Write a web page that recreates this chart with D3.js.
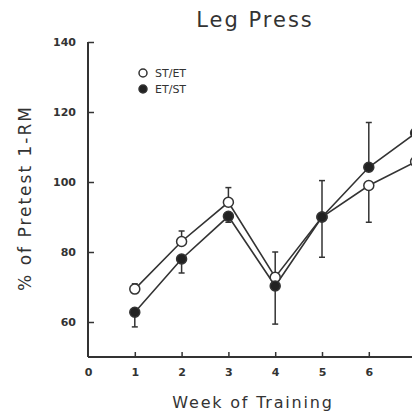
<!DOCTYPE html>
<html>
<head>
<meta charset="utf-8">
<script src="https://cdn.jsdelivr.net/npm/d3@7"></script>
<style>
  body { margin: 0; background: #fff; }
  text { font-family: "DejaVu Sans", sans-serif; fill: #333; }
</style>
</head>
<body>
<script>
// data
var weeks = [1, 2, 3, 4, 5, 6, 7];
var stEt = [69.4, 83, 94.2, 72.8, 90, 99, 105.8];
var stEtSd = [1.5, 3, 4.2, 7.2, 10.4, 10.5, 8.8];
var etSt = [62.8, 78, 90.2, 70.3, 90, 104.2, 114];
var etStSd = [4.2, 4, 1.7, 10.9, 11.5, 12.8, 14.3];
// +1 = bar drawn upward, -1 = downward (for the ST/ET series; ET/ST is opposite)
var stEtDir = [1, 1, 1, 1, 1, -1, -1];
var xTicks = [0, 1, 2, 3, 4, 5, 6];
var yTicks = [60, 80, 100, 120, 140];

var W = 412, H = 414;
var svg = d3.select("body").append("svg")
    .attr("width", W)
    .attr("height", H);

var x = d3.scaleLinear().domain([0, 7]).range([88, 415.6]);
var y = d3.scaleLinear().domain([50, 140]).range([357, 42]);

var ink = "#333";

// title
svg.append("text")
    .attr("x", 255).attr("y", 27)
    .attr("text-anchor", "middle")
    .style("font-size", "21px")
    .style("letter-spacing", "2px")
    .text("Leg Press");

// y axis
var yAxis = d3.axisRight(y).tickValues(yTicks).tickSize(6).tickFormat(d3.format("d"));
var gy = svg.append("g").attr("transform", "translate(88,0)").call(yAxis);
gy.select(".domain").attr("d", "M0," + y(140) + "V" + y(50)).attr("stroke", ink).attr("stroke-width", 2);
gy.selectAll(".tick line").attr("stroke", ink).attr("stroke-width", 1.5);
gy.selectAll(".tick text")
    .attr("x", -12).attr("text-anchor", "end")
    .style("font-size", "11px").style("font-weight", "bold")
    .attr("fill", ink);

// x axis
var xAxis = d3.axisTop(x).tickValues(xTicks).tickSize(5).tickFormat(d3.format("d"));
var gx = svg.append("g").attr("transform", "translate(0," + y(50) + ")").call(xAxis);
gx.select(".domain").attr("d", "M" + x(0) + ",0H" + W).attr("stroke", ink).attr("stroke-width", 2);
gx.selectAll(".tick line").attr("stroke", ink).attr("stroke-width", 1.5)
    .attr("display", function(d) { return d === 0 ? "none" : null; });
gx.selectAll(".tick text")
    .attr("y", 11).attr("dy", "0.71em")
    .style("font-size", "11px").style("font-weight", "bold")
    .attr("fill", ink);

// axis titles
svg.append("text")
    .attr("x", 253).attr("y", 408)
    .attr("text-anchor", "middle")
    .style("font-size", "16px")
    .style("letter-spacing", "1.8px")
    .text("Week of Training");

svg.append("text")
    .attr("transform", "translate(31,198) rotate(-90)")
    .attr("text-anchor", "middle")
    .style("font-size", "17px")
    .style("letter-spacing", "2px")
    .text("% of Pretest 1-RM");

// series
var series = [
    { name: "ST/ET", vals: stEt, sd: stEtSd, dir: stEtDir.map(function(d) { return d; }), fill: "#fff" },
    { name: "ET/ST", vals: etSt, sd: etStSd, dir: stEtDir.map(function(d) { return -d; }), fill: "#222" }
];

var line = d3.line()
    .x(function(d) { return x(d.w); })
    .y(function(d) { return y(d.v); });

series.forEach(function(s) {
    var pts = weeks.map(function(w, i) {
        return { w: w, v: s.vals[i], sd: s.sd[i], dir: s.dir[i] };
    });

    // error bars
    var eb = svg.append("g");
    eb.selectAll("line.bar")
        .data(pts).enter().append("line")
        .attr("class", "bar")
        .attr("x1", function(d) { return x(d.w); })
        .attr("x2", function(d) { return x(d.w); })
        .attr("y1", function(d) { return y(d.v); })
        .attr("y2", function(d) { return y(d.v + d.dir * d.sd); })
        .attr("stroke", ink).attr("stroke-width", 1.5);
    eb.selectAll("line.cap")
        .data(pts).enter().append("line")
        .attr("class", "cap")
        .attr("x1", function(d) { return x(d.w) - 3; })
        .attr("x2", function(d) { return x(d.w) + 3; })
        .attr("y1", function(d) { return y(d.v + d.dir * d.sd); })
        .attr("y2", function(d) { return y(d.v + d.dir * d.sd); })
        .attr("stroke", ink).attr("stroke-width", 1.5);

    s.pts = pts;
});

series.forEach(function(s) {
    svg.append("path")
        .datum(s.pts)
        .attr("d", line)
        .attr("fill", "none")
        .attr("stroke", ink)
        .attr("stroke-width", 1.6);
});

series.forEach(function(s) {
    svg.append("g").selectAll("circle")
        .data(s.pts).enter().append("circle")
        .attr("cx", function(d) { return x(d.w); })
        .attr("cy", function(d) { return y(d.v); })
        .attr("r", 5)
        .attr("fill", s.fill)
        .attr("stroke", ink)
        .attr("stroke-width", 1.5);
});

// legend
var legend = svg.append("g").attr("transform", "translate(143,73)");
series.forEach(function(s, i) {
    legend.append("circle")
        .attr("cx", 0).attr("cy", i * 16)
        .attr("r", 4)
        .attr("fill", s.fill)
        .attr("stroke", ink).attr("stroke-width", 1.5);
    legend.append("text")
        .attr("x", 12).attr("y", i * 16).attr("dy", "0.35em")
        .style("font-size", "11px")
        .text(s.name);
});
</script>
</body>
</html>
